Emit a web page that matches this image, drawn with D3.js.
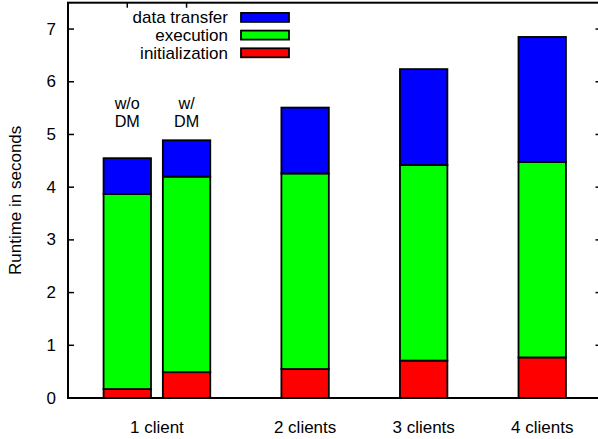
<!DOCTYPE html>
<html>
<head>
<meta charset="utf-8">
<script src="https://cdn.jsdelivr.net/npm/d3@7"></script>
<style>
  html, body { margin: 0; padding: 0; background: #fff; }
  svg { display: block; font-family: "Liberation Sans", Arial, Helvetica, sans-serif; }
</style>
</head>
<body>
<svg id="chart" width="598" height="439"></svg>
<script>
// Bar positions along the x axis (two bars for 1 client, then one bar per client count)
const barPositions = [0, 0.5, 1.5, 2.5, 3.5];
const barNotes = [["w/o", "DM"], ["w/", "DM"], null, null, null];

// Runtime components in seconds, stacked bottom to top
const initialization = [0.17, 0.49, 0.55, 0.71, 0.77];
const execution      = [3.70, 3.71, 3.71, 3.71, 3.71];
const dataTransfer   = [0.68, 0.69, 1.25, 1.82, 2.37];

// Category labels under the x axis
const categoryLabels = ["1 client", "2 clients", "3 clients", "4 clients"];
const categoryPositions = [0.25, 1.5, 2.5, 3.5];

const yTicks = [0, 1, 2, 3, 4, 5, 6, 7];

const seriesNames  = ["initialization", "execution", "data transfer"];
const seriesColors = ["#ff0000", "#00ff00", "#0000ff"];
const seriesValues = [initialization, execution, dataTransfer];

const svg = d3.select("#chart");
const plotLeft = 68, plotRight = 601.5, plotTop = 2.7, plotBottom = 398;

const x = d3.scaleLinear().domain([-0.5, 4]).range([plotLeft, plotRight]);
const y = d3.scaleLinear().domain([0, 7.5]).range([plotBottom, plotTop]);
const barWidth = 0.4;

// Stack the components
const rows = barPositions.map((p, i) => {
  const r = { pos: p };
  seriesNames.forEach((n, k) => r[n] = seriesValues[k][i]);
  return r;
});
const stacked = d3.stack().keys(seriesNames)(rows);

const bars = svg.append("g");
stacked.forEach((layer, k) => {
  bars.selectAll(null).data(layer).enter().append("rect")
    .attr("x", d => x(d.data.pos - barWidth / 2))
    .attr("width", d => x(d.data.pos + barWidth / 2) - x(d.data.pos - barWidth / 2))
    .attr("y", d => y(d[1]))
    .attr("height", d => y(d[0]) - y(d[1]))
    .attr("fill", seriesColors[k])
    .attr("stroke", "#000")
    .attr("stroke-width", 1.8);
});

// Frame
svg.append("rect")
  .attr("x", plotLeft).attr("y", plotTop)
  .attr("width", plotRight - plotLeft).attr("height", plotBottom - plotTop)
  .attr("fill", "none").attr("stroke", "#000").attr("stroke-width", 2);

// Y axis ticks (inward, mirrored on the right)
const yt = svg.append("g");
yTicks.forEach(t => {
  if (t > 0) {
    yt.append("line").attr("x1", plotLeft).attr("x2", plotLeft + 6)
      .attr("y1", y(t)).attr("y2", y(t)).attr("stroke", "#000").attr("stroke-width", 1.5);
    yt.append("line").attr("x1", plotRight).attr("x2", plotRight - 6)
      .attr("y1", y(t)).attr("y2", y(t)).attr("stroke", "#000").attr("stroke-width", 1.5);
  }
  yt.append("text")
    .attr("x", plotLeft - 12).attr("y", y(t))
    .attr("text-anchor", "end").attr("dominant-baseline", "central")
    .attr("font-size", 17).text(t);
});

// Small top ticks over the first pair of bars
[0, 0.5].forEach(p => {
  svg.append("line").attr("x1", x(p)).attr("x2", x(p))
    .attr("y1", plotTop).attr("y2", plotTop + 5).attr("stroke", "#000").attr("stroke-width", 1.5);
});

// Category labels
svg.append("g").selectAll("text").data(categoryLabels).enter().append("text")
  .attr("x", (d, i) => x(categoryPositions[i]))
  .attr("y", 433)
  .attr("text-anchor", "middle")
  .attr("font-size", 17)
  .text(d => d);

// Notes above bars
barNotes.forEach((note, i) => {
  if (!note) return;
  note.forEach((line, j) => {
    svg.append("text")
      .attr("x", x(barPositions[i]))
      .attr("y", 108.5 + j * 18.8)
      .attr("text-anchor", "middle")
      .attr("font-size", 16.2)
      .text(line);
  });
});

// Y axis title
svg.append("text")
  .attr("transform", `translate(15.5, ${(plotTop + plotBottom) / 2}) rotate(-90)`)
  .attr("text-anchor", "middle").attr("dominant-baseline", "central")
  .attr("font-size", 17)
  .text("Runtime in seconds");

// Legend (top entry is the top of the stack)
const legend = svg.append("g");
const legendOrder = [2, 1, 0];
legendOrder.forEach((k, row) => {
  const cy = 17.4 + row * 17.7;
  legend.append("text")
    .attr("x", 228).attr("y", cy + 6)
    .attr("text-anchor", "end")
    .attr("font-size", 17)
    .text(seriesNames[k]);
  legend.append("rect")
    .attr("x", 241).attr("y", cy - 4.5)
    .attr("width", 48).attr("height", 9)
    .attr("fill", seriesColors[k])
    .attr("stroke", "#000").attr("stroke-width", 1.8);
});
</script>
</body>
</html>
